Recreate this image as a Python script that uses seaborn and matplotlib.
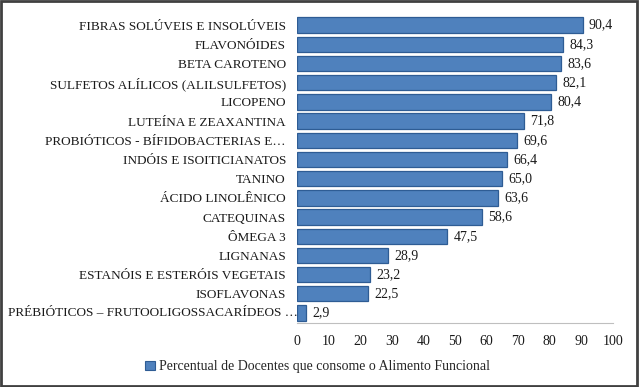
import matplotlib
matplotlib.use("Agg")
import matplotlib.pyplot as plt
import matplotlib.transforms as mtransforms
import seaborn as sns
import pandas as pd
from matplotlib.patches import Rectangle, Patch

alimentos = [
    "FIBRAS SOLÚVEIS E INSOLÚVEIS",
    "FLAVONÓIDES",
    "BETA CAROTENO",
    "SULFETOS ALÍLICOS (ALILSULFETOS)",
    "LICOPENO",
    "LUTEÍNA E ZEAXANTINA",
    "PROBIÓTICOS - BÍFIDOBACTERIAS E…",
    "INDÓIS E ISOITICIANATOS",
    "TANINO",
    "ÁCIDO LINOLÊNICO",
    "CATEQUINAS",
    "ÔMEGA 3",
    "LIGNANAS",
    "ESTANÓIS E ESTERÓIS VEGETAIS",
    "ISOFLAVONAS",
    "PRÉBIÓTICOS – FRUTOOLIGOSSACARÍDEOS …",
]
percentual = [90.4, 84.3, 83.6, 82.1, 80.4, 71.8, 69.6, 66.4, 65.0, 63.6,
              58.6, 47.5, 28.9, 23.2, 22.5, 2.9]
x_ticks = [0, 10, 20, 30, 40, 50, 60, 70, 80, 90, 100]
serie = "Percentual de Docentes que consome o Alimento Funcional"

df = pd.DataFrame({"alimento": alimentos, "pct": percentual})

sns.set_style("white")
plt.rcParams["font.family"] = ["Liberation Serif", "DejaVu Serif"]

fig = plt.figure(figsize=(6.39, 3.87), dpi=100)
ax = fig.add_axes([0.4648, 0.1664, 0.4945, 0.7936])

bar_color = "#4F81BD"
sns.barplot(data=df, x="pct", y="alimento", orient="h", color=bar_color,
            edgecolor="#2E5C94", linewidth=0.9, width=0.8, saturation=1, ax=ax)

for i, v in enumerate(percentual):
    ax.text(v + 2.0, i, f"{v:.1f}".replace(".", ","), va="center", ha="left",
            fontsize=10, color="#1a1a1a")

ax.set_xlim(0, 100)
ax.set_ylim(15.5, -0.5)
ax.set_xticks(x_ticks)
ax.set_xticklabels([str(t) for t in x_ticks], fontsize=10, color="#1a1a1a")
ax.set_yticks(range(len(alimentos)))
ax.set_yticklabels(alimentos[:-1] + [""])
ax.tick_params(axis="y", labelsize=9.5, labelcolor="#1a1a1a", length=0, pad=8)
ax.tick_params(axis="x", length=0, pad=9)

# the last label is longer and runs into the bar, as in the reference
trans = mtransforms.blended_transform_factory(ax.transAxes, ax.transData)
ax.text(0.004, len(alimentos) - 1, alimentos[-1], transform=trans, ha="right",
        va="center", fontsize=9.5, color="#1a1a1a")

ax.set_xlabel("")
ax.set_ylabel("")
for side in ["top", "right", "left"]:
    ax.spines[side].set_visible(False)
ax.spines["bottom"].set_color("#BFBFBF")
ax.spines["bottom"].set_linewidth(0.8)

handle = Patch(facecolor=bar_color, edgecolor="#2E5C94", linewidth=0.8)
fig.legend([handle], [serie], loc="center", bbox_to_anchor=(0.497, 0.052),
           frameon=False, fontsize=10, handlelength=0.7, handleheight=0.7,
           handletextpad=0.25)

fig.patches.append(Rectangle((0.002, 0.003), 0.995, 0.994, transform=fig.transFigure,
                             fill=False, edgecolor="#404040", linewidth=2))

fig.savefig("out.png", dpi=100)
